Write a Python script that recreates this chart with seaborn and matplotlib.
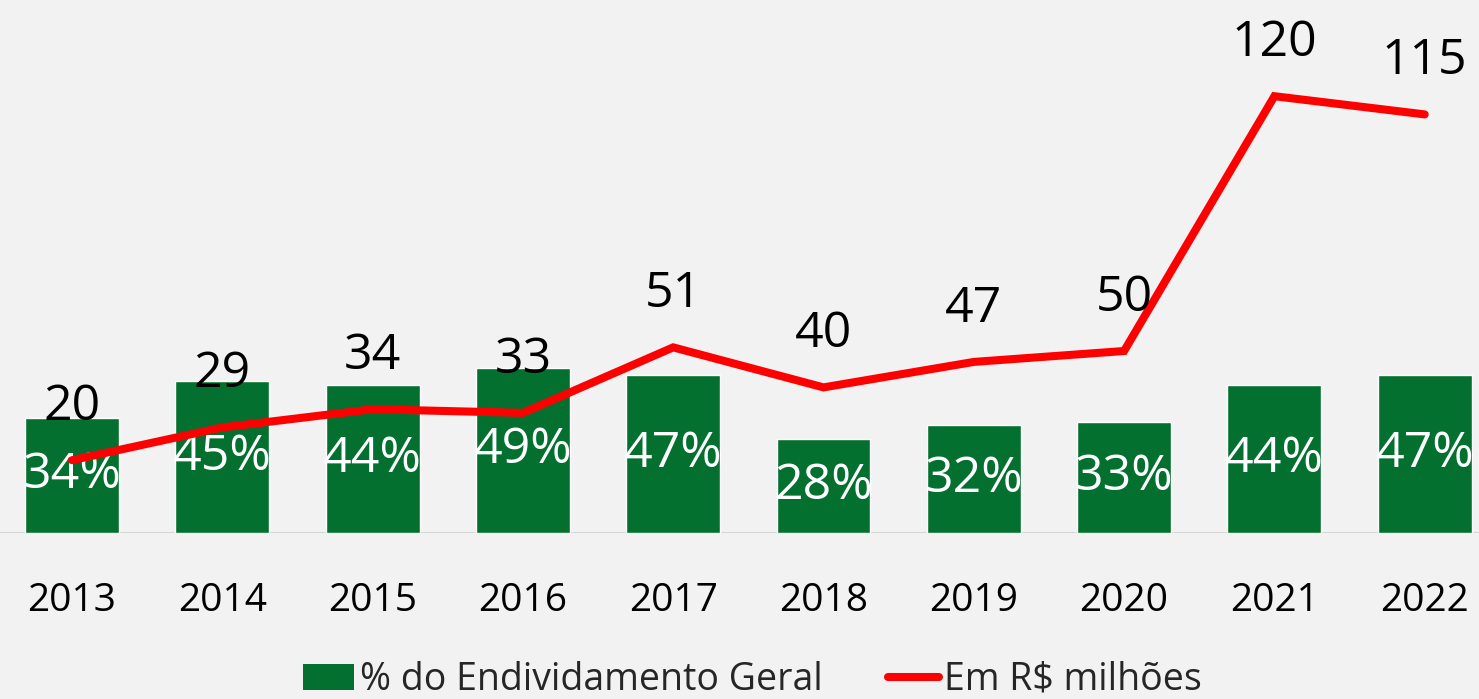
import numpy as np
import pandas as pd
import seaborn as sns
import matplotlib.pyplot as plt
from matplotlib.patches import Patch
from matplotlib.lines import Line2D

years = ["2013", "2014", "2015", "2016", "2017", "2018", "2019", "2020", "2021", "2022"]
pct_divida = [34, 45, 44, 49, 47, 28, 32, 33, 44, 47]
em_milhoes = [20, 29, 34, 33, 51, 40, 47, 50, 120, 115]

verde = "#03702f"
vermelho = "#ff0000"
fundo = "#f2f2f2"

sns.set_theme(style="white")
plt.rcParams["font.family"] = ["Open Sans", "DejaVu Sans"]

df = pd.DataFrame({"ano": years, "pct": pct_divida, "valor": em_milhoes,
                   "pos": np.arange(len(years))})

fig = plt.figure(figsize=(14.79, 6.99), dpi=100, facecolor=fundo)
ax = fig.add_axes([0, 166 / 699, 1, 533 / 699])
ax.set_facecolor(fundo)

sns.barplot(data=df, x="ano", y="pct", color=verde, saturation=1, width=0.625, ax=ax)
ax.bar_label(ax.containers[0], labels=[f"{v}%" for v in pct_divida],
             label_type="center", color="white", fontsize=36)
ax.set_ylim(0, 533 / 3.37)
ax.set_xlim(-72 / 150.3, (1479 - 72) / 150.3)
ax.set_xlabel("")
ax.set_ylabel("")
ax.set_yticks([])
ax.tick_params(axis="x", length=0, pad=35, labelsize=28, colors="black")
for s in ax.spines.values():
    s.set_visible(False)
ax.axhline(0, color="#d6d6d6", lw=1.5, zorder=0)

ax2 = ax.twinx()
sns.lineplot(data=df, x="pos", y="valor", color=vermelho, lw=5.8, ax=ax2,
             solid_capstyle="round", solid_joinstyle="miter")
ax2.set_ylim(0, 533 / 3.64)
ax2.set_xlim(ax.get_xlim())
ax2.set_yticks([])
ax2.set_xlabel("")
ax2.set_ylabel("")
for s in ax2.spines.values():
    s.set_visible(False)
for x, v in zip(df["pos"], em_milhoes):
    ax2.annotate(str(v), (x, v), xytext=(0, 38), textcoords="offset points",
                 ha="center", va="center", fontsize=36, color="black")

handles = [Patch(facecolor=verde, edgecolor="none"),
           Line2D([0], [0], color=vermelho, lw=5.8, solid_capstyle="round")]
fig.legend(handles, ["% do Endividamento Geral", "Em R$ milhões"],
           loc="center", bbox_to_anchor=(0.509, 19 / 699), ncol=2, frameon=False,
           fontsize=27, handlelength=1.35, handleheight=0.7, handletextpad=0.15,
           columnspacing=1.75, borderpad=0)

fig.savefig("out.png", dpi=100, facecolor=fundo)
